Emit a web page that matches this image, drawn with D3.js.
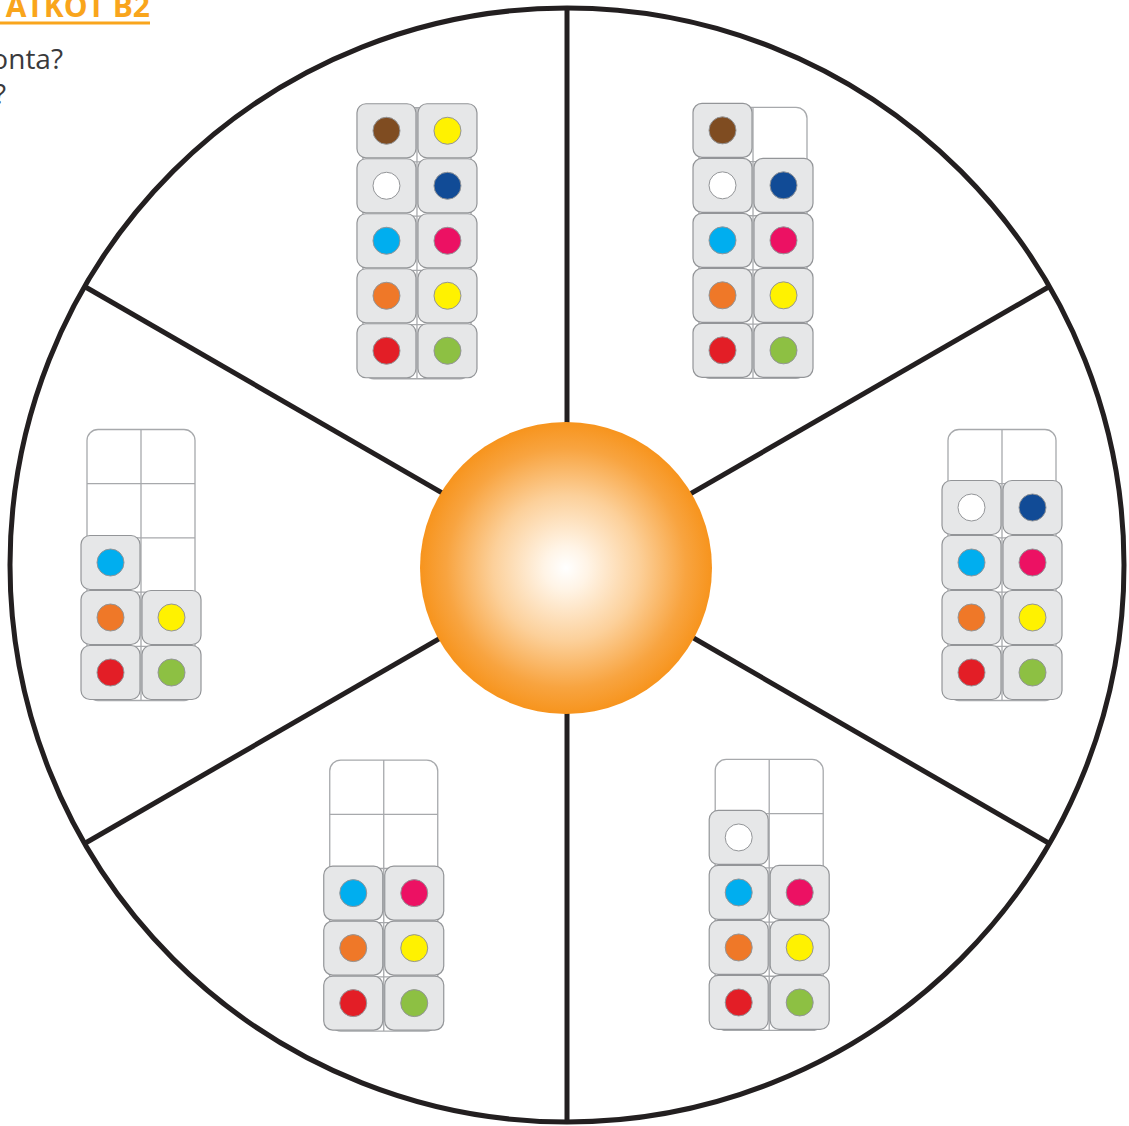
<!DOCTYPE html>
<html>
<head>
<meta charset="utf-8">
<script src="https://cdn.jsdelivr.net/npm/d3@7"></script>
<style>
  body { margin: 0; background: #fff; }
  svg { display: block; }
</style>
</head>
<body>
<div id="wheel"></div>
<script>
// cube colours
var palette = {
    brown: "#7f4c21", yellow: "#fff200", white: "#ffffff", navy: "#114b96",
    cyan: "#00aeef", pink: "#ec1163", orange: "#ef7828", red: "#e31e26", green: "#8dc043"
};

// each sector: rows top -> bottom, [left, right], null = empty cell
var sectorTL = [["brown","yellow"],["white","navy"],["cyan","pink"],["orange","yellow"],["red","green"]];
var sectorTR = [["brown",null],["white","navy"],["cyan","pink"],["orange","yellow"],["red","green"]];
var sectorR  = [[null,null],["white","navy"],["cyan","pink"],["orange","yellow"],["red","green"]];
var sectorBR = [[null,null],["white",null],["cyan","pink"],["orange","yellow"],["red","green"]];
var sectorBL = [[null,null],[null,null],["cyan","pink"],["orange","yellow"],["red","green"]];
var sectorL  = [[null,null],[null,null],["cyan",null],["orange","yellow"],["red","green"]];
var sectors = [sectorTL, sectorTR, sectorR, sectorBR, sectorBL, sectorL];

var titleText = "ATKOT B2";
var questionLines = ["onta?", "?"];

var W = 1129, H = 1126;
var cx = 567, cy = 565, outerR = 557, hubR = 146;

// layout of the grids around the wheel (clockwise from upper-left)
var gridRadius = [355, 372, 435, 387, 378, 426];
var gridNudge = [5, 0, 0, -1.5, -1, 0];
var sectorAngle = d3.scaleLinear().domain([0, 6]).range([-30, 330]);

var svg = d3.select("#wheel").append("svg")
    .attr("width", W)
    .attr("height", H);

var defs = svg.append("defs");
var grad = defs.append("radialGradient").attr("id", "hub")
    .attr("cx", "50%").attr("cy", "50%").attr("r", "50%");
[[0, "#ffffff"], [0.15, "#fff4e6"], [0.5, "#fcd09a"], [0.82, "#f8a440"], [1, "#f7941d"]]
    .forEach(function(s) {
        grad.append("stop").attr("offset", s[0]).attr("stop-color", s[1]);
    });

// header text
svg.append("text")
    .attr("x", 150).attr("y", 17)
    .attr("text-anchor", "end")
    .style("font-family", "'Open Sans', 'Noto Sans', sans-serif")
    .style("font-weight", "bold")
    .style("font-size", "30px")
    .attr("fill", "#f9a51c")
    .text(titleText);
svg.append("line")
    .attr("x1", 0).attr("x2", 150).attr("y1", 23).attr("y2", 23)
    .attr("stroke", "#f9a51c").attr("stroke-width", 3);

svg.selectAll("text.q")
    .data(questionLines)
    .enter().append("text")
    .attr("class", "q")
    .attr("x", function(d, i) { return i == 0 ? 63 : 6; })
    .attr("y", function(d, i) { return 69 + i * 35; })
    .attr("text-anchor", "end")
    .style("font-family", "'Open Sans', 'Noto Sans', sans-serif")
    .style("font-size", "28px")
    .attr("fill", "#3a3a3c")
    .text(function(d) { return d; });

// wheel
var wheel = svg.append("g").attr("transform", "translate(" + cx + "," + cy + ")");
wheel.append("circle")
    .attr("r", outerR)
    .attr("fill", "none")
    .attr("stroke", "#231f20")
    .attr("stroke-width", 5);

var spokeAngle = d3.scaleLinear().domain([0, 6]).range([0, 2 * Math.PI]);
wheel.selectAll("line.spoke")
    .data(d3.range(6))
    .enter().append("line")
    .attr("class", "spoke")
    .attr("x1", 0).attr("y1", 0)
    .attr("x2", function(d) { return d3.pointRadial(spokeAngle(d), outerR)[0]; })
    .attr("y2", function(d) { return d3.pointRadial(spokeAngle(d), outerR)[1]; })
    .attr("stroke", "#231f20")
    .attr("stroke-width", 5);

wheel.append("circle")
    .attr("cx", -1).attr("cy", 3)
    .attr("r", hubR)
    .attr("fill", "url(#hub)");

// grids
var cell = 54.2, frameW = 108, frameH = cell * 5;
var col = d3.scaleBand().domain([0, 1]).range([-frameW / 2, frameW / 2]);
var row = d3.scaleBand().domain(d3.range(5)).range([-frameH / 2, frameH / 2]);
// cubes sit a little wider / taller than the cells
var cubeX = d3.scaleLinear().domain([0, 1]).range([-30.5, 30.5]);
var cubeY = d3.scaleLinear().domain([4, 0]).range([frameH / 2 - 28, frameH / 2 - 28 - 4 * 55]);
var cubeW = 59, cubeH = 54;

sectors.forEach(function(grid, i) {
    var p = d3.pointRadial((sectorAngle(i) + gridNudge[i]) * Math.PI / 180, gridRadius[i]);
    var g = wheel.append("g").attr("transform", "translate(" + p[0] + "," + p[1] + ")");

    g.append("rect")
        .attr("x", -frameW / 2).attr("y", -frameH / 2)
        .attr("width", frameW).attr("height", frameH)
        .attr("rx", 11)
        .attr("fill", "#fff")
        .attr("stroke", "#a7a9ac")
        .attr("stroke-width", 1.3);
    g.append("line")
        .attr("x1", 0).attr("x2", 0)
        .attr("y1", -frameH / 2).attr("y2", frameH / 2)
        .attr("stroke", "#a7a9ac").attr("stroke-width", 1.3);
    g.selectAll("line.row")
        .data(d3.range(1, 5))
        .enter().append("line")
        .attr("class", "row")
        .attr("x1", -frameW / 2).attr("x2", frameW / 2)
        .attr("y1", function(d) { return row(d); })
        .attr("y2", function(d) { return row(d); })
        .attr("stroke", "#a7a9ac").attr("stroke-width", 1.3);

    var cubes = [];
    grid.forEach(function(r, ri) {
        r.forEach(function(c, ci) {
            if (c) cubes.push({row: ri, col: ci, color: c});
        });
    });

    var cg = g.selectAll("g.cube")
        .data(cubes)
        .enter().append("g")
        .attr("class", "cube")
        .attr("transform", function(d) {
            return "translate(" + cubeX(d.col) + "," + cubeY(d.row) + ")";
        });
    cg.append("rect")
        .attr("x", -cubeW / 2).attr("y", -cubeH / 2)
        .attr("width", cubeW).attr("height", cubeH)
        .attr("rx", 9)
        .attr("fill", "#e6e7e8")
        .attr("stroke", "#939598")
        .attr("stroke-width", 1.2);
    cg.append("circle")
        .attr("r", 13.5)
        .attr("fill", function(d) { return palette[d.color]; })
        .attr("stroke", "#939598")
        .attr("stroke-width", 1);
});
</script>
</body>
</html>
